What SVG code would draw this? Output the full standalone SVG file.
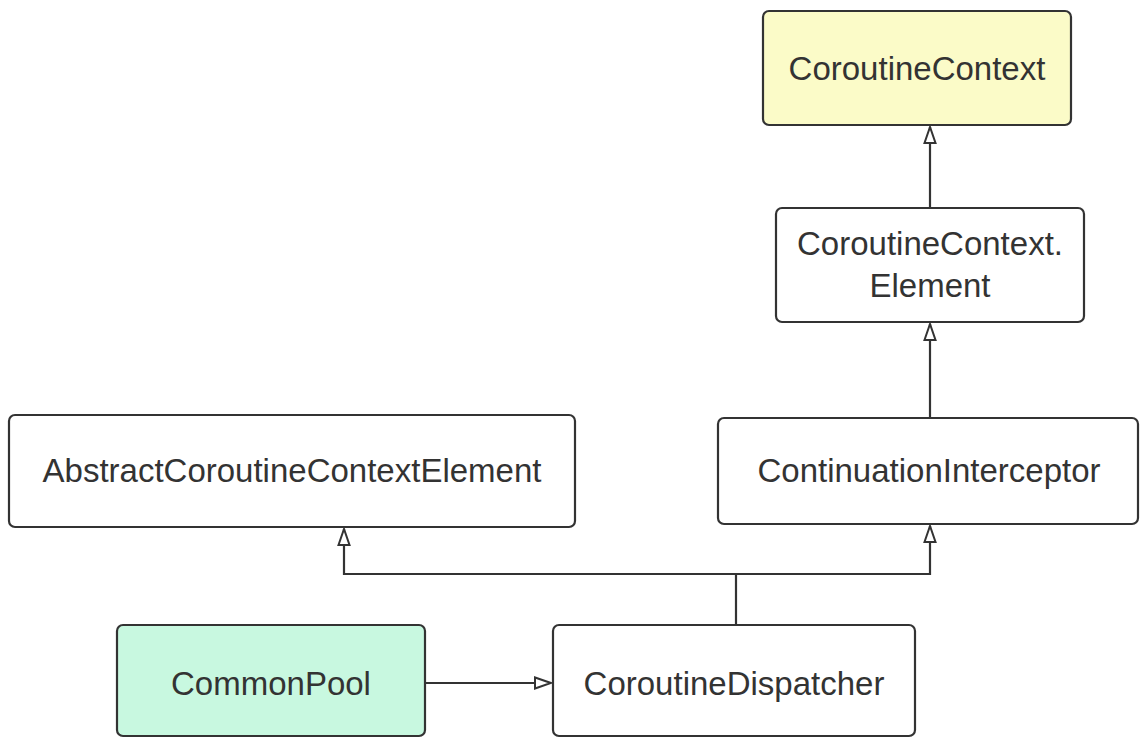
<svg xmlns="http://www.w3.org/2000/svg" width="1140" height="738" viewBox="0 0 1140 738">
<style>
.box{stroke:#333;stroke-width:2.2;fill:#fff}
.lbl{font-family:"Liberation Sans",Arial,sans-serif;font-size:33px;fill:#333;text-anchor:middle}
.edge{stroke:#333;stroke-width:2.2;fill:none}
</style>
<defs>
<marker id="tri" markerUnits="userSpaceOnUse" markerWidth="20" markerHeight="16" refX="18" refY="7" orient="auto" viewBox="0 0 20 14">
<path d="M18 7 L2 1.5 L2 12.5 Z" fill="#fff" stroke="#333" stroke-width="2" stroke-linejoin="miter"/>
</marker>
</defs>
<rect width="1140" height="738" fill="#fff"/>
<g id="connectors">
<path class="edge" d="M930 208 V127" marker-end="url(#tri)"/>
<path class="edge" d="M930 418 V324" marker-end="url(#tri)"/>
<path class="edge" d="M736 625 V574 H930 V526" marker-end="url(#tri)"/>
<path class="edge" d="M736 574 H344 V529" marker-end="url(#tri)"/>
<path class="edge" d="M425 683 H551" marker-end="url(#tri)"/>
</g>
<g id="n-context">
<rect class="box" x="763" y="11" width="308" height="114" rx="6" style="fill:#fbfbc8"/>
<text class="lbl" x="917" y="80">CoroutineContext</text>
</g>
<g id="n-element">
<rect class="box" x="776" y="208" width="308" height="114" rx="6"/>
<text class="lbl" x="930" y="255">CoroutineContext.</text>
<text class="lbl" x="930" y="297">Element</text>
</g>
<g id="n-abstract">
<rect class="box" x="9" y="415" width="566" height="112" rx="6"/>
<text class="lbl" x="292" y="482">AbstractCoroutineContextElement</text>
</g>
<g id="n-interceptor">
<rect class="box" x="718" y="418" width="420" height="106" rx="6"/>
<text class="lbl" x="929" y="482">ContinuationInterceptor</text>
</g>
<g id="n-commonpool">
<rect class="box" x="117" y="625" width="308" height="111" rx="6" style="fill:#c8f8e0"/>
<text class="lbl" x="271" y="695">CommonPool</text>
</g>
<g id="n-dispatcher">
<rect class="box" x="553" y="625" width="362" height="111" rx="6"/>
<text class="lbl" x="734" y="695">CoroutineDispatcher</text>
</g>
</svg>
